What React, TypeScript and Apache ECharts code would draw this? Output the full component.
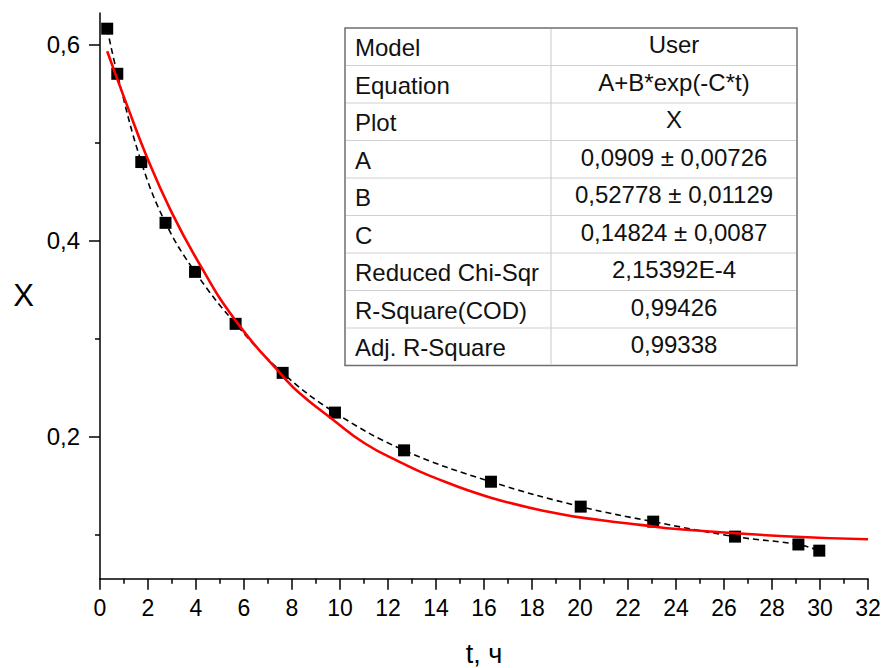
import React, { useEffect, useRef } from "react";
import * as echarts from "echarts";

// Experimental points (t, h  ->  X)
const tData = [0.3, 0.72, 1.72, 2.73, 3.96, 5.65, 7.61, 9.79, 12.67, 16.29, 20.03, 23.05, 26.46, 29.1, 29.97];
const xData = [0.616, 0.570, 0.480, 0.418, 0.368, 0.315, 0.265, 0.2245, 0.186, 0.154, 0.1286, 0.1133, 0.098, 0.090, 0.0837];

// Fitted curve
const fitT = [0.3, 0.61, 1.17, 1.94, 2.92, 4.10, 5.69, 7.64, 8.33, 9.72, 11.04, 12.5, 13.75, 16.25, 19.17, 20.83, 22.5, 24.17, 28.33, 32];
const fitX = [0.593, 0.572, 0.535, 0.486, 0.432, 0.378, 0.317, 0.261, 0.244, 0.217, 0.193, 0.174, 0.160, 0.138, 0.121, 0.115, 0.110, 0.1055, 0.0987, 0.0953];

// Axis ticks
const yMajorTicks = [0.2, 0.4, 0.6];
const yMinorTicks = [0.1, 0.3, 0.5];

// Fit statistics table
const tableLabels = ["Model", "Equation", "Plot", "A", "B", "C", "Reduced Chi-Sqr", "R-Square(COD)", "Adj. R-Square"];
const tableValues = ["User", "A+B*exp(-C*t)", "X", "0,0909 ± 0,00726", "0,52778 ± 0,01129", "0,14824 ± 0,0087", "2,15392E-4", "0,99426", "0,99338"];

const FONT = "Arial, 'Liberation Sans', sans-serif";

export default function App() {
  const ref = useRef<HTMLDivElement>(null);

  useEffect(() => {
    if (!ref.current) return;
    const chart = echarts.init(ref.current, undefined, { renderer: "svg" });

    const tblLeft = 345;
    const tblTop = 28;
    const tblW = 452;
    const rowH = 37.5;
    const colX = 551;
    const tblH = rowH * tableLabels.length;

    const graphics: any[] = [];
    graphics.push({
      type: "rect",
      shape: { x: tblLeft, y: tblTop, width: tblW, height: tblH },
      style: { fill: "#ffffff", stroke: "#6e6e6e", lineWidth: 1.5 },
      z: 10,
    });
    for (let i = 1; i < tableLabels.length; i++) {
      graphics.push({
        type: "line",
        shape: { x1: tblLeft + 1, y1: tblTop + rowH * i, x2: tblLeft + tblW - 1, y2: tblTop + rowH * i },
        style: { stroke: "#d0d0d0", lineWidth: 1.2 },
        z: 11,
      });
    }
    graphics.push({
      type: "line",
      shape: { x1: colX, y1: tblTop + 1, x2: colX, y2: tblTop + tblH - 1 },
      style: { stroke: "#d0d0d0", lineWidth: 1.2 },
      z: 11,
    });
    tableLabels.forEach((lab, i) => {
      const cy = tblTop + rowH * (i + 0.5);
      graphics.push({
        type: "text",
        x: tblLeft + 10,
        y: cy + 1,
        style: { text: lab, fill: "#111", font: `24px ${FONT}`, textAlign: "left", textVerticalAlign: "middle" },
        z: 12,
      });
      graphics.push({
        type: "text",
        x: (colX + tblLeft + tblW) / 2,
        y: cy - 2,
        style: { text: tableValues[i], fill: "#111", font: `24px ${FONT}`, textAlign: "center", textVerticalAlign: "middle" },
        z: 12,
      });
    });

    const axisLine = { show: true, lineStyle: { color: "#000", width: 1.5 } };

    chart.setOption({
      animation: false,
      backgroundColor: "#ffffff",
      grid: { left: 100, right: 14, top: 13, bottom: 89.3, containLabel: false, outerBoundsMode: "none" },
      xAxis: [
        {
          type: "value",
          min: 0,
          max: 32,
          interval: 2,
          position: "bottom",
          axisLine,
          axisTick: { show: true, length: 11, lineStyle: { color: "#000", width: 1.5 } },
          minorTick: { show: true, splitNumber: 2, length: 5, lineStyle: { color: "#000", width: 1.5 } },
          splitLine: { show: false },
          axisLabel: { color: "#000", fontSize: 23, fontFamily: FONT, margin: 18 },
          name: "t, ч",
          nameLocation: "middle",
          nameGap: 62,
          nameTextStyle: { color: "#000", fontSize: 27, fontFamily: FONT },
        },
      ],
      yAxis: [
        {
          type: "value",
          min: 0.0551,
          max: 0.632,
          position: "left",
          axisLine,
          axisTick: { show: true, length: 11, customValues: yMajorTicks, lineStyle: { color: "#000", width: 1.5 } },
          splitLine: { show: false },
          axisLabel: {
            color: "#000",
            fontSize: 24,
            fontFamily: FONT,
            margin: 20,
            customValues: yMajorTicks,
            formatter: (v: number) => v.toFixed(1).replace(".", ","),
          },
          name: "X",
          nameLocation: "middle",
          nameRotate: 0,
          nameGap: 66,
          nameTextStyle: { color: "#000", fontSize: 31, fontFamily: FONT },
        },
        {
          type: "value",
          min: 0.0551,
          max: 0.632,
          position: "left",
          offset: 0,
          axisLine: { show: false },
          axisTick: { show: true, length: 5, customValues: yMinorTicks, lineStyle: { color: "#000", width: 1.5 } },
          splitLine: { show: false },
          axisLabel: { show: false },
        },
      ],
      graphic: graphics,
      series: [
        {
          type: "line",
          name: "X",
          data: tData.map((t, i) => [t, xData[i]]),
          smooth: 0.4,
          symbol: "none",
          lineStyle: { color: "#000", width: 1.6, type: [6, 4] },
          z: 2,
        },
        {
          type: "scatter",
          data: tData.map((t, i) => [t, xData[i]]),
          symbol: "rect",
          symbolSize: 12,
          itemStyle: { color: "#000", opacity: 1 },
          z: 3,
        },
        {
          type: "line",
          name: "fit",
          data: fitT.map((t, i) => [t, fitX[i]]),
          smooth: 0.5,
          symbol: "none",
          lineStyle: { color: "#ff0000", width: 2.6 },
          z: 4,
        },
      ],
    });

    return () => chart.dispose();
  }, []);

  return <div ref={ref} style={{ position: "fixed", left: 0, top: 0, width: 882, height: 668 }} />;
}
